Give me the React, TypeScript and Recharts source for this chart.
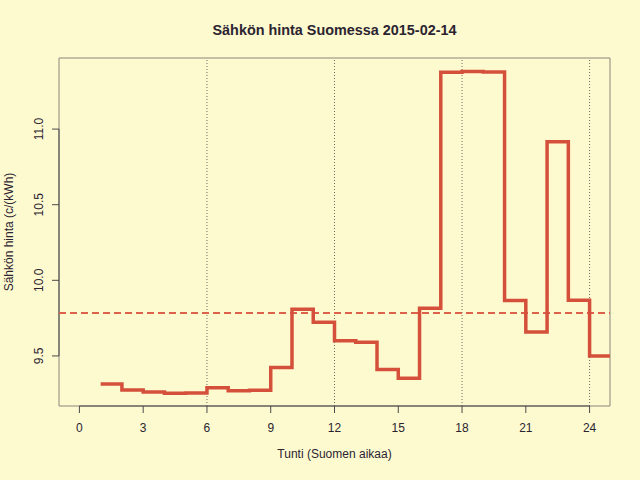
import { LineChart, Line, XAxis, YAxis, ReferenceLine, ReferenceArea } from "recharts";

const hours = [1, 2, 3, 4, 5, 6, 7, 8, 9, 10, 11, 12, 13, 14, 15, 16, 17, 18, 19, 20, 21, 22, 23, 24];
const prices = [
  9.315, 9.275, 9.262, 9.253, 9.255, 9.29, 9.27, 9.273,
  9.423, 9.809, 9.723, 9.601, 9.59, 9.41, 9.352, 9.815,
  11.375, 11.38, 11.378, 9.866, 9.659, 10.916, 9.868, 9.5,
];
const meanPrice = 9.784;
const xTicks = [0, 3, 6, 9, 12, 15, 18, 21, 24];
const yTicks = [9.5, 10, 10.5, 11];
const dayMarks = [6, 12, 18, 24];

const xDomain: [number, number] = [-0.96, 24.96];
const yDomain: [number, number] = [9.169, 11.47];

const FONT = "'Liberation Sans', Arial, Helvetica, sans-serif";
const TEXT = "#2b2430";
const AXIS = "#4a4a4a";
const LINE = "#d4503a";
const BG = "#fefad0";

// stepAfter needs one extra point so the last hour gets its own segment
const data = [
  ...hours.map((h, i) => ({ hour: h, price: prices[i] })),
  { hour: hours[hours.length - 1] + 1, price: prices[prices.length - 1] },
];

function YTick(props: any) {
  const { x, y, payload } = props;
  return (
    <text
      x={x}
      y={y}
      transform={`rotate(-90, ${x}, ${y})`}
      textAnchor="middle"
      fontSize={12}
      fontFamily={FONT}
      fill={TEXT}
    >
      {Number(payload.value).toFixed(1)}
    </text>
  );
}

export default function App() {
  return (
    <div style={{ position: "absolute", left: 0, top: 0, width: 640, height: 480, background: BG }}>
      <div
        style={{
          position: "absolute",
          left: 59,
          top: 23,
          width: 551,
          textAlign: "center",
          fontFamily: FONT,
          fontWeight: "bold",
          fontSize: 14.4,
          lineHeight: "14.4px",
          color: TEXT,
        }}
      >
        Sähkön hinta Suomessa 2015-02-14
      </div>
      <LineChart width={640} height={480} data={data} margin={{ top: 58, right: 30, left: 0, bottom: 0 }}>
        <XAxis
          dataKey="hour"
          type="number"
          domain={xDomain}
          ticks={xTicks}
          allowDataOverflow
          height={74}
          axisLine={false}
          tickSize={7}
          tickMargin={10}
          tickLine={{ stroke: AXIS }}
          tick={{ fontSize: 12, fontFamily: FONT, fill: TEXT }}
          label={{
            content: () => (
              <text x={334.5} y={458} textAnchor="middle" fontSize={12} fontFamily={FONT} fill={TEXT}>
                Tunti (Suomen aikaa)
              </text>
            ),
          }}
        />
        <YAxis
          type="number"
          domain={yDomain}
          ticks={yTicks}
          allowDataOverflow
          width={59}
          axisLine={false}
          tickSize={7}
          tickMargin={9}
          tickLine={{ stroke: AXIS }}
          tick={<YTick />}
          label={{
            content: () => (
              <text
                x={13}
                y={232}
                transform="rotate(-90, 13, 232)"
                textAnchor="middle"
                fontSize={12}
                fontFamily={FONT}
                fill={TEXT}
              >
                Sähkön hinta (c/(kWh)
              </text>
            ),
          }}
        />
        <ReferenceArea
          x1={xDomain[0]}
          x2={xDomain[1]}
          y1={yDomain[0]}
          y2={yDomain[1]}
          fill="none"
          stroke="#8a857a"
          strokeWidth={1}
        />
        {dayMarks.map((d) => (
          <ReferenceLine key={d} x={d} stroke="#6e6a64" strokeDasharray="1 2" strokeWidth={1} />
        ))}
        <ReferenceLine
          segment={[
            { x: xTicks[0], y: yDomain[0] },
            { x: xTicks[xTicks.length - 1], y: yDomain[0] },
          ]}
          stroke={AXIS}
          strokeWidth={1}
        />
        <ReferenceLine
          segment={[
            { x: xDomain[0], y: yTicks[0] },
            { x: xDomain[0], y: yTicks[yTicks.length - 1] },
          ]}
          stroke={AXIS}
          strokeWidth={1}
        />
        <ReferenceLine y={meanPrice} stroke="#dc624c" strokeWidth={2} strokeDasharray="7 4" />
        <Line
          type="stepAfter"
          dataKey="price"
          stroke={LINE}
          strokeWidth={3.5}
          dot={false}
          isAnimationActive={false}
        />
      </LineChart>
    </div>
  );
}
